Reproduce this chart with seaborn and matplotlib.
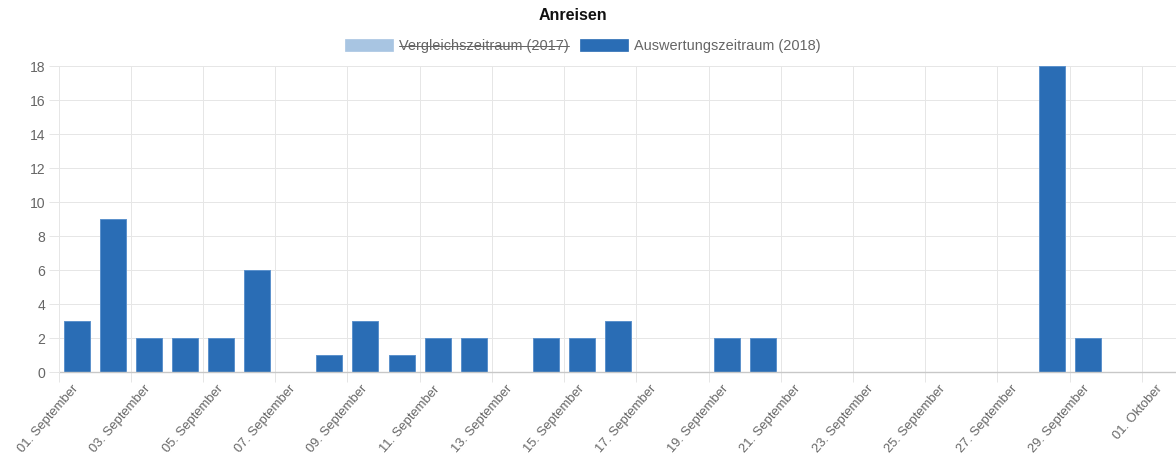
import matplotlib
matplotlib.use("Agg")
import matplotlib.pyplot as plt
from matplotlib.patches import Patch
from matplotlib.lines import Line2D
import seaborn as sns
import pandas as pd

# Daily arrivals, September 1st to October 1st
days = [f"{d:02d}. September" for d in range(1, 31)] + ["01. Oktober"]
arrivals_2018 = [3, 9, 2, 2, 2, 6, 0, 1, 3, 1, 2, 2, 0, 2, 2, 3, 0, 0, 2, 2,
                 0, 0, 0, 0, 0, 0, 0, 18, 2, 0, 0]
series_labels = ["Vergleichszeitraum (2017)", "Auswertungszeitraum (2018)"]
series_colors = ["#a8c5e2", "#2a6db5"]
y_ticks = list(range(0, 19, 2))

sns.set_style("white")
plt.rcParams["font.family"] = ["Liberation Sans", "DejaVu Sans"]

W, H = 1176, 465
fig = plt.figure(figsize=(W / 100, H / 100), dpi=100)
px = 0.72  # points per pixel at 100 dpi

left, right, top, bottom = 58.5, 1178, 66, 372
ax = fig.add_axes([left / W, 1 - bottom / H, (right - left) / W, (bottom - top) / H])

df = pd.DataFrame({"day": days, "arrivals": arrivals_2018})
sns.barplot(data=df, x="day", y="arrivals", order=days, color=series_colors[1],
            saturation=1, width=0.72, edgecolor="#5d92cc", linewidth=1 * px, ax=ax)

grid_c = "#e6e6e6"
ax.set_xlim(-0.5, len(days) - 0.5)
ax.set_ylim(0, 18)
ax.set_xlabel("")
ax.set_ylabel("")

# y axis: gridlines with short tick marks outside the plot
ax.set_yticks(y_ticks)
ax.yaxis.grid(True, color=grid_c, linewidth=1 * px)
ax.tick_params(axis="y", length=10 * px, width=1 * px, color=grid_c,
               pad=3 * px, labelsize=14 * px, labelcolor="#666666", left=True)

# x axis: labels on every other day, gridlines on the category boundaries
major = list(range(0, len(days), 2))
ax.set_xticks(major)
ax.set_xticklabels([days[i] for i in major])
ax.set_xticks([i - 0.5 for i in major], minor=True)
ax.xaxis.grid(True, which="minor", color=grid_c, linewidth=1 * px)
ax.xaxis.grid(False, which="major")
ax.tick_params(axis="x", which="major", length=0, pad=15 * px,
               labelsize=13 * px, labelcolor="#666666")
ax.tick_params(axis="x", which="minor", length=10 * px, width=1 * px,
               color=grid_c, bottom=True)
for lab in ax.get_xticklabels():
    lab.set_rotation(49)
    lab.set_ha("right")
    lab.set_va("center")
    lab.set_rotation_mode("anchor")

ax.set_axisbelow(True)
for side in ["top", "right", "bottom"]:
    ax.spines[side].set_visible(False)
ax.spines["left"].set_color(grid_c)
ax.spines["left"].set_linewidth(1 * px)
ax.axhline(0, color="#c8c8c8", linewidth=1.4 * px, zorder=1, clip_on=False)

fig.text(573 / W, 1 - 16 / H, "Anreisen", ha="center", va="center",
         fontsize=16 * px, fontweight="bold", color="#111111")

handles = [Patch(facecolor=c, edgecolor=c, linewidth=0.5) for c in series_colors]
leg = fig.legend(handles, series_labels, loc="center", ncol=2,
                 bbox_to_anchor=(583 / W, 1 - 46 / H), frameon=False,
                 fontsize=14.5 * px, handlelength=3.3, handleheight=0.95,
                 handletextpad=0.4, columnspacing=0.8, borderaxespad=0)
for t in leg.get_texts():
    t.set_color("#666666")

# strike through the hidden series' legend entry
fig.canvas.draw()
bb = leg.get_texts()[0].get_window_extent(fig.canvas.get_renderer())
ym = (bb.y0 + bb.y1) / 2 / H
fig.add_artist(Line2D([bb.x0 / W, bb.x1 / W], [ym, ym], color="#666666",
                      linewidth=1 * px))

fig.savefig("out.png", dpi=100)
